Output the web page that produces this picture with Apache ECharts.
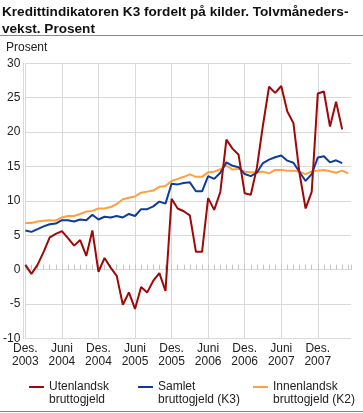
<!DOCTYPE html>
<html><head><meta charset="utf-8">
<script src="https://cdn.jsdelivr.net/npm/echarts@6/dist/echarts.min.js"></script>
<style>html,body{margin:0;padding:0;background:#fff}#c{width:363px;height:413px}</style>
</head><body><div id="c"></div>
<script>
// Month index 0 = Des. 2003
const tickLabels = ['Des.\n2003','Juni\n2004','Des.\n2004','Juni\n2005','Des.\n2005','Juni\n2006','Des.\n2006','Juni\n2007','Des.\n2007'];
const seriesNames = ['Utenlandsk\nbruttogjeld', 'Samlet\nbruttogjeld (K3)', 'Innenlandsk\nbruttogjeld (K2)'];
const utenlandsk = [0.7,-0.6,0.7,2.6,4.7,5.2,5.6,4.6,3.5,4.3,
  2.0,5.7,-0.3,1.7,0.3,-0.9,-5.1,-3.3,-5.7,-2.5,
  -3.3,-1.6,-0.5,-3.1,10.3,8.9,8.5,7.9,2.6,2.6,
  10.4,8.7,11.3,18.9,17.6,16.7,11.1,10.9,14.8,21.0,
  26.6,25.7,26.7,23.0,21.3,14.0,8.9,11.3,25.6,25.9,
  20.8,24.4,20.4];
const samlet = [5.7,5.5,5.9,6.3,6.6,6.7,7.2,7.2,7.0,7.3,
  7.2,8.0,7.3,7.7,7.6,7.8,7.6,8.1,7.8,8.8,
  8.8,9.2,9.9,9.6,12.5,12.4,12.6,12.7,11.4,11.4,
  13.6,13.2,14.1,15.6,15.1,14.9,13.9,13.6,14.1,15.5,
  16.0,16.35,16.6,15.85,15.55,14.2,12.9,13.9,16.3,16.5,
  15.6,15.9,15.5];
const innenlandsk = [6.8,6.8,7.0,7.1,7.2,7.15,7.6,7.8,7.8,8.1,
  8.45,8.55,8.9,8.9,9.1,9.55,10.25,10.45,10.65,11.2,
  11.35,11.5,12.05,12.15,12.9,13.2,13.5,13.85,13.5,13.5,
  14.15,14.25,14.6,15.15,14.55,14.65,14.25,14.15,14.15,14.25,
  14.0,14.5,14.5,14.4,14.4,14.25,13.9,14.3,14.4,14.5,
  14.3,14.1,14.4,14.0];
const colors = ['#9e0808', '#0b3c9e', '#ff9f40'];

const toPts = arr => arr.map((v, i) => [i, v]);
const legendIcon = 'path://M0,0h15v2h-15z M0,15h0.05v0.05h-0.05z';
const gridColor = '#d9d9d9';
const font = 'Liberation Sans, Arial, sans-serif';

const chart = echarts.init(document.getElementById('c'), null, {renderer: 'canvas'});
function legendAt(idx, left) {
  return {
    data: [seriesNames[idx]], left: left, top: 380.5, padding: 0,
    icon: legendIcon, itemWidth: 15, itemHeight: 15, itemGap: 0,
    itemStyle: {borderWidth: 0},
    textStyle: {fontSize: 12, lineHeight: 13, color: '#222', fontFamily: font},
    selectedMode: false
  };
}
chart.setOption({
  animation: false,
  textStyle: {fontFamily: font},
  title: {
    text: 'Kredittindikatoren K3 fordelt på kilder. Tolvmåneders-\nvekst. Prosent',
    left: 2, top: 4, padding: 0,
    textStyle: {fontSize: 13.6, fontWeight: 'bold', color: '#111', lineHeight: 16.5, fontFamily: font}
  },
  graphic: [
    {type: 'line', shape: {x1: 0, y1: 35.5, x2: 363, y2: 35.5}, style: {stroke: '#8a8a8a', lineWidth: 1}},
    {type: 'line', shape: {x1: 0, y1: 411.5, x2: 363, y2: 411.5}, style: {stroke: '#8a8a8a', lineWidth: 1}},
    {type: 'text', left: 6, top: 41.5, style: {text: 'Prosent', fontSize: 12, fill: '#222', font: '12px ' + font}}
  ],
  legend: [legendAt(0, 29), legendAt(1, 138), legendAt(2, 253)],
  grid: {left: 24.3, right: 12, top: 63.3, bottom: 74.5, containLabel: false},
  xAxis: [
    {
      type: 'value', min: 0, max: 53.45, interval: 6, position: 'bottom',
      axisLine: {show: false, onZero: false},
      axisTick: {show: false},
      axisLabel: {
        formatter: v => Number.isInteger(v / 6) && tickLabels[v / 6] ? tickLabels[v / 6] : '',
        fontSize: 12, lineHeight: 13, color: '#222', margin: 4, showMaxLabel: false
      },
      splitLine: {show: true, showMaxLine: false, lineStyle: {color: gridColor, width: 1}}
    },
    {
      type: 'value', min: 0, max: 53.45, interval: 1, position: 'top',
      axisLine: {show: true, onZero: true, lineStyle: {color: gridColor, width: 1}},
      axisTick: {show: true, length: 5, lineStyle: {color: '#c4c4c4', width: 1}},
      axisLabel: {show: false},
      splitLine: {show: false}
    }
  ],
  yAxis: {
    type: 'value', min: -10, max: 30, interval: 5, offset: 2,
    axisLine: {show: true, onZero: false, lineStyle: {color: gridColor, width: 1}},
    axisTick: {show: false},
    axisLabel: {fontSize: 12, color: '#222', margin: 3},
    splitLine: {show: true, lineStyle: {color: gridColor, width: 1}}
  },
  series: [
    {name: seriesNames[2], type: 'line', xAxisIndex: 0, data: toPts(innenlandsk), showSymbol: false, symbol: 'none',
     color: colors[2], lineStyle: {width: 2, color: colors[2]}, itemStyle: {color: colors[2]}, z: 2},
    {name: seriesNames[1], type: 'line', xAxisIndex: 0, data: toPts(samlet), showSymbol: false, symbol: 'none',
     color: colors[1], lineStyle: {width: 2, color: colors[1]}, itemStyle: {color: colors[1]}, z: 3},
    {name: seriesNames[0], type: 'line', xAxisIndex: 0, data: toPts(utenlandsk), showSymbol: false, symbol: 'none',
     color: colors[0], lineStyle: {width: 2, color: colors[0]}, itemStyle: {color: colors[0]}, z: 4}
  ]
});
</script></body></html>
